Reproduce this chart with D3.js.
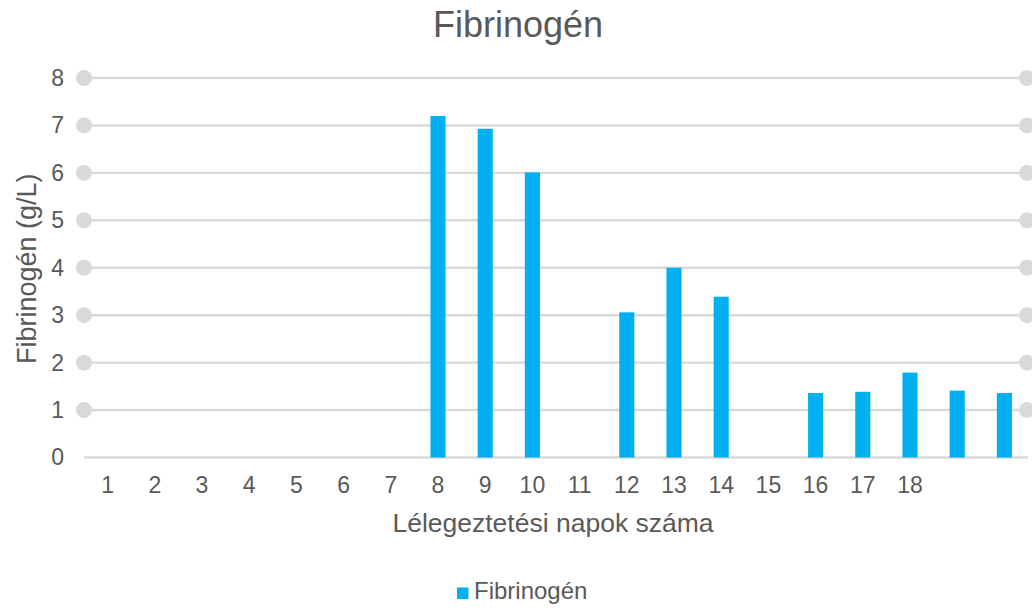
<!DOCTYPE html>
<html>
<head>
<meta charset="utf-8">
<script src="https://cdn.jsdelivr.net/npm/d3@7"></script>
<style>
  html, body { margin: 0; padding: 0; background: #fff; }
  svg { display: block; font-family: "Liberation Sans", Arial, sans-serif; }
</style>
</head>
<body>
<svg id="chart" width="1032" height="608"></svg>
<script>
// Ventilation days (20 slots; the last two carry no printed label)
const days = [1, 2, 3, 4, 5, 6, 7, 8, 9, 10, 11, 12, 13, 14, 15, 16, 17, 18, 19, 20];
const dayLabels = ["1", "2", "3", "4", "5", "6", "7", "8", "9", "10", "11", "12", "13", "14", "15", "16", "17", "18", "", ""];
// Fibrinogen level per day, g/L (null = no measurement)
const fibrinogen = [null, null, null, null, null, null, null, 7.2, 6.93, 6.01, null, 3.06, 4.0, 3.39, null, 1.36, 1.385, 1.79, 1.41, 1.36];
const yTicks = [0, 1, 2, 3, 4, 5, 6, 7, 8];

const svg = d3.select("#chart");
const W = 1032;
const plot = { left: 84, right: 1028, top: 78, bottom: 457.5 };

const x = d3.scaleBand().domain(days).range([plot.left, plot.right]);
const barW = x.bandwidth() * 0.32;
const y = d3.scaleLinear().domain([0, 8]).range([plot.bottom, plot.top]);

const textColor = "#595959";
const gridColor = "#d9d9d9";

// Horizontal gridlines, each value line capped with round dots at both ends
const grid = svg.append("g");
yTicks.forEach(t => {
  grid.append("line")
    .attr("x1", plot.left).attr("x2", plot.right)
    .attr("y1", y(t)).attr("y2", y(t))
    .attr("stroke", gridColor).attr("stroke-width", 2.4);
  if (t > 0) {
    [plot.left, plot.right - 1].forEach(cx => {
      grid.append("circle")
        .attr("cx", cx).attr("cy", y(t)).attr("r", 8)
        .attr("fill", gridColor);
    });
  }
});

// Y axis labels
svg.append("g")
  .attr("transform", `translate(${plot.left - 20},0)`)
  .call(d3.axisLeft(y).tickValues(yTicks).tickSize(0).tickPadding(0))
  .call(g => g.select(".domain").remove())
  .call(g => g.selectAll("text")
    .attr("fill", textColor)
    .attr("font-size", 23)
    .attr("font-family", "Liberation Sans, Arial, sans-serif"));

// X axis labels
svg.append("g")
  .attr("transform", `translate(0,${y(0) + 19})`)
  .call(d3.axisBottom(x).tickFormat((d, i) => dayLabels[i]).tickSize(0).tickPadding(0))
  .call(g => g.select(".domain").remove())
  .call(g => g.selectAll("text")
    .attr("fill", textColor)
    .attr("font-size", 23)
    .attr("font-family", "Liberation Sans, Arial, sans-serif"));

// Bars
svg.append("g")
  .selectAll("rect")
  .data(days.map((d, i) => ({ day: d, v: fibrinogen[i] })).filter(d => d.v !== null))
  .join("rect")
  .attr("x", d => x(d.day) + (x.bandwidth() - barW) / 2)
  .attr("width", barW)
  .attr("y", d => y(d.v))
  .attr("height", d => y(0) - y(d.v))
  .attr("fill", "#00b0f0");

// Title
svg.append("text")
  .attr("x", 518).attr("y", 37)
  .attr("text-anchor", "middle")
  .attr("font-size", 36)
  .attr("fill", textColor)
  .text("Fibrinogén");

// Axis titles
svg.append("text")
  .attr("x", 553).attr("y", 532)
  .attr("text-anchor", "middle")
  .attr("font-size", 26.5)
  .attr("fill", textColor)
  .text("Lélegeztetési napok száma");

svg.append("text")
  .attr("transform", `translate(36,${y(4) + 1}) rotate(-90)`)
  .attr("text-anchor", "middle")
  .attr("font-size", 27)
  .attr("fill", textColor)
  .text("Fibrinogén (g/L)");

// Legend
const legend = svg.append("g").attr("transform", "translate(457,599)");
legend.append("rect").attr("x", 0).attr("y", -11.5).attr("width", 11.5).attr("height", 11.5).attr("fill", "#00b0f0");
legend.append("text").attr("x", 17).attr("y", 0)
  .attr("font-size", 24).attr("fill", textColor).text("Fibrinogén");
</script>
</body>
</html>
